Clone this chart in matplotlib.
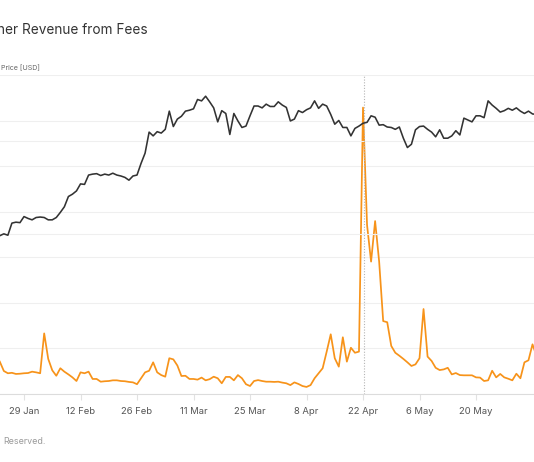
import matplotlib
matplotlib.use("Agg")
import matplotlib.pyplot as plt
import matplotlib.dates as mdates
import pandas as pd
import numpy as np

plt.rcParams['font.family'] = ['Inter', 'DejaVu Sans']

# ---------------- data ----------------
dates = pd.date_range('2024-01-22', periods=135, freq='D')

price_usd = [
    39600, 39700, 40100, 39800, 42400, 42600, 42500, 43800, 43400, 43100,
    43600, 43700, 43600, 43100, 43100, 43600, 44700, 45900, 48100, 48600,
    49300, 50800, 50700, 52700, 52900, 53000, 52600, 52900, 52700, 53100,
    52700, 52500, 52200, 51600, 52500, 52700, 55200, 57400, 61900, 61100,
    62000, 61700, 62500, 66400, 63100, 64700, 65300, 66400, 66600, 66900,
    68900, 68600, 69600, 68400, 67100, 64100, 66500, 65900, 61400, 65900,
    64300, 62900, 63200, 65400, 67500, 67500, 67100, 67900, 67400, 67400,
    68400, 67700, 67200, 64300, 64700, 66500, 66100, 66700, 67100, 68600,
    67000, 67900, 67500, 65700, 63600, 64400, 62900, 62900, 61100, 62700,
    63200, 63800, 64000, 65400, 65100, 63400, 63500, 63000, 62900, 62500,
    63000, 60600, 58600, 59300, 62400, 63100, 63200, 62500, 61900, 60900,
    62400, 60600, 60600, 61100, 62200, 61300, 64900, 64500, 64100, 65400,
    65400, 65000, 68600, 67700, 67000, 66200, 66500, 67000, 66600, 67100,
    66400, 65900, 66400, 65800, 65700,
]

fees_btc = [
    171, 142, 101, 91, 93, 88, 89, 91, 92, 98,
    95, 91, 266, 154, 104, 80, 113, 98, 86, 73,
    57, 95, 91, 98, 66, 66, 54, 56, 57, 60,
    60, 57, 56, 53, 51, 43, 69, 95, 102, 139,
    95, 83, 76, 157, 152, 125, 79, 80, 66, 66,
    63, 72, 60, 65, 76, 69, 47, 75, 75, 60,
    83, 69, 43, 35, 57, 61, 57, 54, 54, 53,
    54, 50, 47, 39, 51, 44, 35, 31, 39, 69,
    91, 113, 186, 262, 157, 120, 249, 142, 203, 181,
    186, 1257, 742, 581, 759, 581, 320, 315, 211, 181,
    168, 154, 139, 123, 130, 157, 373, 164, 145, 115,
    105, 108, 115, 86, 92, 83, 82, 82, 82, 73,
    72, 57, 60, 102, 73, 88, 73, 67, 60, 89,
    69, 139, 148, 218, 167,
]

tick_dates = pd.to_datetime(['2024-01-29', '2024-02-12', '2024-02-26', '2024-03-11',
                             '2024-03-25', '2024-04-08', '2024-04-22', '2024-05-06',
                             '2024-05-20'])
marker_date = pd.Timestamp('2024-04-22 08:00')
x_start = pd.Timestamp('2024-01-23 01:12')
x_end = pd.Timestamp('2024-06-03 08:53')

fee_ticks = [0, 200, 400, 600, 800, 1000, 1200, 1400]
price_grid = [40000, 60000]
price_range = (5767, 74148)

title_text = 'her Revenue from Fees'
axis_label = 'Price [USD]'
footer_text = 'Reserved.'

# ---------------- figure ----------------
W, H = 534, 462
fig = plt.figure(figsize=(W / 100, H / 100), dpi=100)
fig.patch.set_facecolor('white')

rect = [0, (H - 394) / H, 1, (394 - 75) / H]
ax_fee = fig.add_axes(rect)
ax_price = ax_fee.twinx()

grid_kw = dict(color='#efefef', linewidth=0.8)

# fees axis (behind)
ax_fee.set_ylim(fee_ticks[0], fee_ticks[-1])
ax_fee.set_yticks(fee_ticks)
ax_fee.yaxis.grid(True, **grid_kw)
ax_fee.set_axisbelow(True)
ax_fee.plot(dates, fees_btc, color='#f7931a', linewidth=1.25,
            solid_joinstyle='round', zorder=3)

# price axis (on top)
ax_price.set_ylim(*price_range)
ax_price.set_yticks(price_grid)
ax_price.yaxis.grid(True, **grid_kw)
ax_price.plot(dates, price_usd, color='#333333', linewidth=1.15,
              solid_joinstyle='round', zorder=3)
ax_price.axvline(marker_date, color='#b5b5b5', linewidth=0.8,
                 linestyle=(0, (1, 1.5)), zorder=2)

for a in (ax_fee, ax_price):
    a.set_xlim(x_start, x_end)
    for s in ('top', 'left', 'right'):
        a.spines[s].set_visible(False)
    a.tick_params(axis='y', left=False, right=False, labelleft=False, labelright=False)
ax_price.spines['bottom'].set_visible(False)
ax_fee.spines['bottom'].set_color('#dcdcdc')
ax_fee.spines['bottom'].set_linewidth(0.8)

ax_fee.set_xticks(tick_dates)
ax_fee.xaxis.set_major_formatter(mdates.DateFormatter('%-d %b'))
ax_fee.tick_params(axis='x', length=4, width=0.8, color='#e2e2e2',
                   labelsize=6.8, labelcolor='#555555', pad=5)

# texts
fig.text(148 / W, (H - 33.5) / H, title_text, ha='right', va='baseline',
         fontsize=9.8, color='#333333')
fig.text(1 / W, (H - 70) / H, axis_label, ha='left', va='baseline',
         fontsize=5.1, color='#666666')
fig.text(3 / W, (H - 444.3) / H, footer_text, ha='left', va='baseline',
         fontsize=6.4, color='#9a9a9a')

fig.savefig('out.png', dpi=100, facecolor='white')
